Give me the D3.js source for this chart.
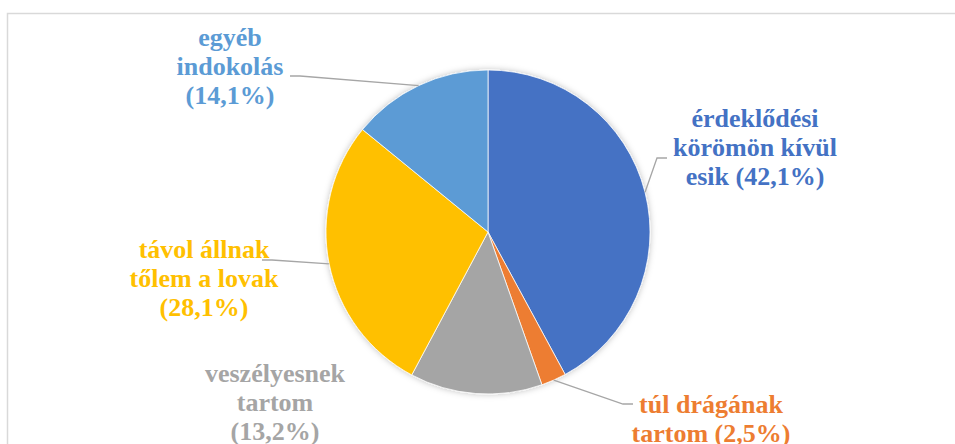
<!DOCTYPE html>
<html>
<head>
<meta charset="utf-8">
<script src="https://cdn.jsdelivr.net/npm/d3@7"></script>
<style>
  body { margin: 0; background: #fff; }
</style>
</head>
<body>
<div id="chart"></div>
<script>
// adatok
var categories = ['érdeklődési körömön kívül esik', 'túl drágának tartom', 'veszélyesnek tartom', 'távol állnak tőlem a lovak', 'egyéb indokolás'];
var values = [42.1, 2.5, 13.2, 28.1, 14.1];
var labelLines = [
    ['érdeklődési', 'körömön kívül', 'esik (42,1%)'],
    ['túl drágának', 'tartom (2,5%)'],
    ['veszélyesnek', 'tartom', '(13,2%)'],
    ['távol állnak', 'tőlem a lovak', '(28,1%)'],
    ['egyéb', 'indokolás', '(14,1%)']
];
var colors = ['#4472C4', '#ED7D31', '#A5A5A5', '#FFC000', '#5B9BD5'];

var width = 955, height = 444,
    cx = 488, cy = 232,
    radius = 162;

// címkék helye (szöveg közepe, első sor alapvonala), vezetővonal kezdete
var labelPos = [
    { x: 755, y: 127, lead: [667, 158] },
    { x: 711, y: 413, lead: [633, 404] },
    { x: 275, y: 382, lead: null },
    { x: 204, y: 258, lead: [262, 260] },
    { x: 230, y: 46, lead: [290, 76] }
];
var lineHeight = 29;
var font = 'Liberation Serif';

var svg = d3.select('#chart')
    .append('svg')
    .attr('width', width)
    .attr('height', height)
    .attr('font-family', font);

// diagram kerete
svg.append('rect')
    .attr('x', 7.5).attr('y', 13.5)
    .attr('width', 960).attr('height', 460)
    .attr('fill', 'none')
    .attr('stroke', '#D9D9D9')
    .attr('stroke-width', 1.5);

var data = categories.map(function (c, i) {
    return { name: c, value: values[i], color: colors[i], lines: labelLines[i], pos: labelPos[i] };
});

var pie = d3.pie().sort(null).value(function (d) { return d.value; });
var arcs = pie(data);

var arc = d3.arc().innerRadius(0).outerRadius(radius);
var edge = d3.arc().innerRadius(radius).outerRadius(radius);

// címkék (a kör előtt rajzolva)
data.forEach(function (d) {
    var t = svg.append('text')
        .attr('text-anchor', 'middle')
        .attr('font-family', font)
        .attr('font-weight', 'bold')
        .attr('font-size', 26)
        .attr('fill', d.color);
    d.lines.forEach(function (l, i) {
        t.append('tspan')
            .attr('x', d.pos.x)
            .attr('y', d.pos.y + i * lineHeight)
            .attr('font-family', font)
            .text(l);
    });
});

// árnyék
var defs = svg.append('defs');
var shadow = defs.append('filter').attr('id', 'shadow')
    .attr('x', '-20%').attr('y', '-20%').attr('width', '140%').attr('height', '140%');
shadow.append('feDropShadow')
    .attr('dx', 0).attr('dy', 0)
    .attr('stdDeviation', 3)
    .attr('flood-color', '#000')
    .attr('flood-opacity', 0.25);

var g = svg.append('g')
    .attr('transform', 'translate(' + cx + ',' + cy + ')');

g.append('g')
    .attr('filter', 'url(#shadow)')
    .selectAll('path')
    .data(arcs)
    .enter().append('path')
    .attr('d', arc)
    .attr('fill', function (d) { return d.data.color; })
    .attr('stroke', '#fff')
    .attr('stroke-width', 0.75);

// vezetővonalak
svg.selectAll('.leader')
    .data(arcs.filter(function (d) { return d.data.pos.lead; }))
    .enter().append('polyline')
    .attr('class', 'leader')
    .attr('fill', 'none')
    .attr('stroke', '#A6A6A6')
    .attr('stroke-width', 1.3)
    .attr('points', function (d) {
        var p = edge.centroid(d);
        var s = d.data.pos.lead;
        var side = s[0] < cx ? 1 : -1;
        return [s, [s[0] + side * 10, s[1]], [p[0] + cx, p[1] + cy]].map(function (q) { return q.join(','); }).join(' ');
    });
</script>
</body>
</html>
